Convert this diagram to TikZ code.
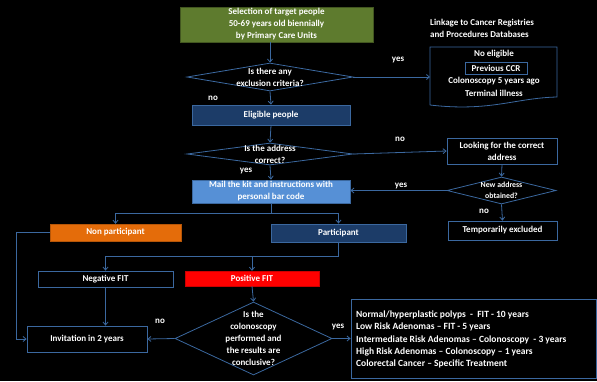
\documentclass[tikz,border=0pt]{standalone}
\usepackage{fontspec}
\setmainfont{Carlito}
\usetikzlibrary{shapes.geometric,arrows.meta}
\definecolor{lineblue}{HTML}{3B689F}
\definecolor{darkblue}{HTML}{1C3C68}
\definecolor{midblue}{HTML}{5690D6}
\definecolor{oliveg}{HTML}{5E7B2E}
\definecolor{orangeb}{HTML}{E46C0A}
\begin{document}
\begin{tikzpicture}[x=1pt,y=-1pt,
  every node/.style={font=\fontsize{9}{12}\selectfont\bfseries, text=white, inner sep=0pt},
  box/.style={rectangle, draw=lineblue, line width=0.8pt, minimum width=#1},
  dia/.style={diamond, draw=lineblue, line width=0.8pt, fill=black},
  lbl/.style={font=\fontsize{9}{12}\selectfont\bfseries},
  arr/.style={draw=lineblue, line width=0.8pt, -{Straight Barb[length=3pt,width=5pt]}},
  ln/.style={draw=lineblue, line width=0.8pt}]
\fill[black] (0,0) rectangle (597,381);
\useasboundingbox (0,0) rectangle (597,381);

% top
\node[rectangle, fill=oliveg, draw=oliveg!70!black, minimum width=193pt, minimum height=35pt, align=center] (sel) at (276.5,24.5) {Selection of target people\\50-69 years old biennially\\by Primary Care Units};
\node[dia, minimum width=166pt, minimum height=28pt, label={[align=center, lbl]center:Is there any\\exclusion criteria?}] (d1) at (270,77) {};
\node[lbl] (no1) at (213,98) {no};
\node[lbl] (yes1) at (398,60) {yes};
\node[lbl, anchor=west, align=left] (link) at (430,28) {Linkage to Cancer Registries\\and Procedures Databases};

% no eligible document
\coordinate (ne-a) at (430,47);
\coordinate (ne-b) at (557,47);
\coordinate (ne-c) at (557,97);
\coordinate (ne-d) at (430,105);
\draw[ln] (ne-d) -- (ne-a) -- (ne-b) -- (ne-c) .. controls (515,98) and (490,112) .. (ne-d);
\node (ne1) at (494,54) {No eligible};
\node[draw=lineblue, line width=0.8pt, minimum width=62pt, minimum height=12pt] (ccr) at (496,68) {Previous CCR};
\node (ne3) at (494,81) {Colonoscopy 5 years ago};
\node (ne4) at (494,93) {Terminal illness};

\node[box=158pt, fill=darkblue, minimum height=20pt] (elig) at (271,115) {Eligible people};
\node[dia, minimum width=166pt, minimum height=22pt, label={[align=center, lbl]center:Is the address\\correct?}] (d2) at (270,154) {};
\node[lbl] (no2) at (400,139) {no};
\node[lbl] (yes2) at (246,171) {yes};
\node[box=158pt, fill=midblue, minimum height=23pt, align=center] (mail) at (271,191.5) {Mail the kit and instructions with\\personal bar code};

\node[box=110pt, fill=black, minimum height=26pt, align=center] (look) at (502,151) {Looking for the correct\\address};
\node[dia, minimum width=109pt, minimum height=27pt, label={[align=center, font=\fontsize{7.8}{11}\selectfont\bfseries]center:New address\\obtained?}] (d3) at (501.5,190.5) {};
\node[lbl] (yes3) at (401,186) {yes};
\node[lbl] (no3) at (484,211) {no};
\node[box=109pt, fill=black, minimum height=19pt] (temp) at (502.5,230.5) {Temporarily excluded};

\node[rectangle, fill=orangeb, draw=orangeb!80!black, minimum width=131pt, minimum height=17pt] (nonp) at (115.5,232.5) {Non participant};
\node[box=135pt, fill=darkblue, minimum height=18pt] (part) at (338.5,233) {Participant};
\node[box=135pt, fill=black, minimum height=16pt] (negfit) at (105.5,279) {Negative FIT};
\node[rectangle, fill=red, draw=red!80!black, minimum width=134pt, minimum height=15pt] (posfit) at (252,278.5) {Positive FIT};

\node[dia, minimum width=157pt, minimum height=73pt, label={[align=center, lbl]center:Is the\\colonoscopy\\performed and\\the results are\\conclusive?}] (d4) at (253.5,338.5) {};
\node[box=120pt, fill=black, minimum height=26pt] (inv) at (87,339) {Invitation in 2 years};
\node[lbl] (no4) at (160,321) {no};
\node[lbl] (yes4) at (338,327) {yes};
\node[box=245pt, fill=black, minimum height=79pt] (res) at (473.5,338.5) {};
\node[anchor=west, align=left, font=\fontsize{9.5}{12.3}\selectfont\bfseries] (restxt) at (356,339.5) {Normal/hyperplastic polyps \ - \ FIT - 10 years\\Low Risk Adenomas -- FIT - 5 years\\Intermediate Risk Adenomas -- Colonoscopy \ - 3 years\\High Risk Adenomas -- Colonoscopy -- 1 years\\Colorectal Cancer -- Specific Treatment};

% connectors
\draw[arr] (sel.south -| d1.north) -- (d1.north);
\draw[arr] (d1.east) -- (d1.east -| ne-a);
\draw[arr] (d1.south) -- (elig.north);
\draw[arr] (elig.south) -- (d2.north);
\draw[arr] (d2.east) -- (look.west);
\draw[arr] (d2.south) -- (mail.north);
\draw[arr] (look.south) -- (d3.north);
\draw[arr] (d3.south) -- (temp.north);
\draw[arr] (d3.west) -- (d3.west -| mail.east);

\coordinate (j1) at (271,213.5);
\draw[ln] (mail.south) -- (j1);
\draw[arr] (j1) -| (nonp.north);
\draw[arr] (j1) -| (part.north);

\coordinate (j2) at (338.5,256);
\draw[ln] (part.south) -- (j2);
\draw[arr] (j2) -| (negfit.north);
\draw[arr] (j2) -| (posfit.north);

\draw[arr] (posfit.south) -- (d4.north);
\draw[arr] (negfit.south) -- (negfit.south |- inv.north);
\draw[arr] (d4.west) -- (inv.east);
\draw[arr] (d4.east) -- (res.west);

\coordinate (lft) at (16,232.5);
\draw[arr] (nonp.west) -- (lft) |- (inv.west);
\end{tikzpicture}
\end{document}
